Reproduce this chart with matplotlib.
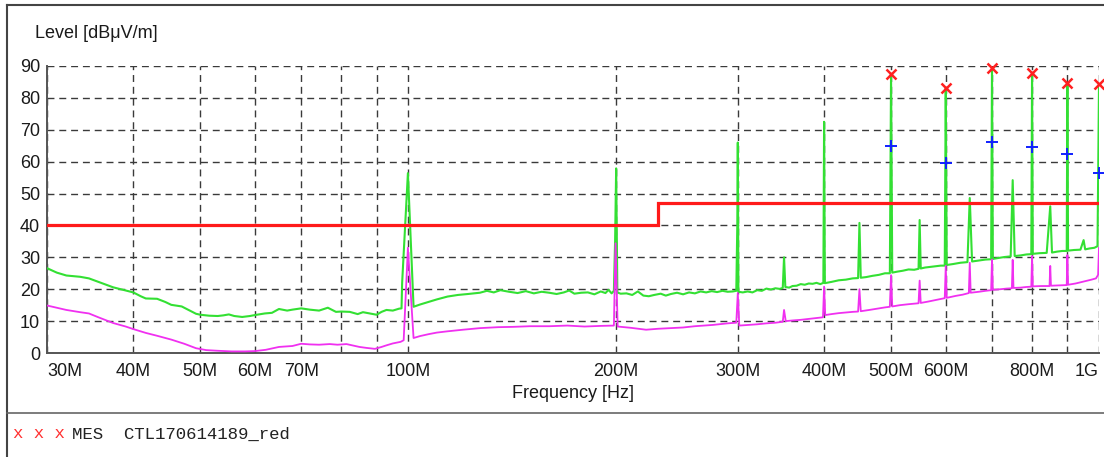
import matplotlib
matplotlib.use('Agg')

import numpy as np
import matplotlib.pyplot as plt
from matplotlib.lines import Line2D

# Peak trace (green), frequency in MHz / level in dBuV/m
peak_freq = [30, 31, 32, 33.5, 34.5, 35.7, 37.4, 39, 40, 41, 41.7, 43.3, 44.5, 45.4, 47, 48.2,
             49.3, 50, 51.5, 53, 54, 55, 56, 57.5, 59, 60, 62, 63.5, 65, 66.8, 68, 70, 72, 74.3,
             76.5, 78.6, 80, 82.3, 84.5, 86, 87.5, 89, 90, 91.5, 93, 95, 97, 97.8, 98.0, 99.9,
             101.8, 104, 107, 110, 114, 118, 122, 127, 130, 133, 136, 140, 144, 148, 152, 156,
             160, 164, 168, 171, 174, 178, 182, 186, 190, 193, 195, 197, 198.5, 199.3, 200,
             200.8, 203, 207, 211, 215, 219, 223, 227, 232, 236, 240, 245, 250, 255, 260, 265,
             270, 275, 280, 285, 290, 295, 298.5, 299.5, 300, 300.6, 305, 310, 315, 320, 325,
             330, 335, 340, 345, 348.5, 350, 351.5, 356, 360, 365, 370, 375, 380, 385, 390, 395,
             399, 400, 401, 410, 420, 430, 440, 448, 450, 452, 460, 470, 480, 490, 498, 500,
             502, 510, 520, 530, 540, 548, 550, 552, 560, 570, 580, 590, 598, 600, 602, 615,
             630, 645, 650, 655, 670, 685, 698, 700, 702, 715, 730, 745, 750, 755, 770, 785,
             798, 800, 802, 820, 840, 850, 855, 870, 885, 898, 900, 902, 920, 940, 950, 955,
             970, 985, 995, 1000]
peak_level = [26.6, 25.2, 24.3, 23.9, 23.4, 22.2, 20.6, 19.6, 19.0, 17.8, 17.1, 17.0, 16.0, 15.1,
              14.6, 13.4, 12.3, 12.0, 11.7, 11.6, 11.8, 12.1, 11.6, 11.3, 11.6, 11.9, 12.4, 12.6,
              13.8, 13.3, 13.6, 14.0, 13.6, 13.3, 14.2, 12.9, 13.0, 12.9, 12.2, 12.8, 12.5, 12.2,
              12.0, 12.9, 13.5, 13.3, 13.9, 14.0, 22.0, 56.4,
              14.5, 15.2, 16.0, 16.8, 17.7, 18.2, 18.5, 18.9, 19.5, 19.0, 19.7, 19.2, 18.8, 19.4,
              18.7, 19.2, 18.9, 18.5, 19.0, 19.6, 18.6, 18.9, 19.0, 18.4, 19.3, 18.8, 19.8, 18.7,
              19.5, 35.0, 57.9,
              19.0, 18.6, 18.7, 18.2, 19.3, 18.0, 17.8, 18.2, 18.6, 18.0, 18.5, 18.9, 18.4, 19.0,
              18.7, 19.3, 19.0, 19.4, 19.1, 19.5, 19.2, 19.3, 19.5, 40.0, 66.0, 19.2, 19.0, 19.3,
              19.0, 19.7, 19.5, 20.2, 19.9, 20.3, 20.1, 20.4, 30.0, 20.7, 20.5, 21.0, 21.1, 21.6,
              21.4, 21.8, 21.7, 22.0, 21.6, 22.0, 72.5, 21.9, 22.3, 22.8, 23.0, 23.4, 23.5, 40.8,
              23.6, 23.8, 24.2, 24.5, 25.0, 25.0, 87.5, 25.2, 25.5, 25.8, 26.2, 26.1, 26.4, 41.7,
              26.5, 26.8, 27.0, 27.2, 27.4, 27.4, 83.0, 27.6, 27.9, 28.3, 28.5, 48.6, 28.7, 29.0,
              29.3, 29.4, 89.3, 29.5, 29.8, 30.1, 30.3, 54.2, 30.4, 30.6, 30.9, 31.0, 87.9, 31.1,
              31.3, 31.4, 46.0, 31.5, 31.8, 32.0, 32.0, 84.7, 32.1, 32.3, 32.4, 35.4, 32.5, 32.8,
              33.0, 33.5, 84.2]

# Average trace (magenta)
avg_freq = [30, 31, 32, 33.5, 34.5, 35.7, 37.4, 39, 40, 41.7, 43.3, 45.4, 47.4, 49.3, 51, 53,
            55.5, 58, 60, 62.2, 65, 68, 70, 72, 74.3, 77, 79, 81.4, 85, 87, 89.5, 91.5, 93, 95,
            97.5, 98.5, 99.9, 101.8, 104, 107, 110, 114, 120, 127, 135, 142, 150, 160, 170, 180,
            190, 198.5, 199.6, 201, 210, 221, 230, 240, 250, 260, 276, 290, 298.5, 300, 301.5,
            310, 320, 330, 340, 348.5, 350, 352, 360, 370, 380, 390, 398.5, 400, 401.5, 410,
            420, 430, 440, 448, 450, 452, 465, 480, 490, 498, 500, 502, 515, 530, 548, 550, 552,
            565, 580, 598, 600, 602, 620, 635, 648, 650, 652, 670, 685, 698, 700, 702, 720, 735,
            748, 750, 752, 770, 785, 798, 800, 802, 825, 848, 850, 852, 875, 898, 900, 902, 925,
            950, 975, 990, 997, 1000]
avg_level = [14.9, 14.2, 13.5, 12.8, 12.4, 11.1, 9.4, 8.3, 7.5, 6.3, 5.4, 4.2, 2.9, 1.5, 0.9,
             0.7, 0.5, 0.5, 0.6, 1.0, 1.9, 2.2, 2.9, 2.7, 2.6, 2.8, 2.6, 2.8, 1.9, 1.6, 1.3, 1.9,
             2.4, 3.0, 3.5, 4.0, 33.0, 4.7, 5.3, 5.9, 6.4, 6.8, 7.3, 7.8, 8.1, 8.2, 8.4, 8.4, 8.6,
             8.3, 8.5, 8.6, 34.4, 8.3, 7.9, 7.3, 7.6, 7.8, 8.0, 8.4, 8.8, 9.3, 9.5, 18.8, 8.6,
             8.8, 9.0, 9.3, 9.5, 9.8, 13.5, 10.0, 10.2, 10.4, 10.7, 11.0, 11.2, 20.8, 11.9, 12.2,
             12.5, 12.7, 12.9, 13.0, 20.0, 13.1, 13.5, 14.0, 14.3, 14.5, 24.4, 14.6, 15.0, 15.3,
             15.6, 22.7, 15.7, 16.1, 16.6, 17.2, 27.3, 17.3, 17.9, 18.3, 18.8, 28.3, 18.9, 19.2,
             19.5, 19.7, 29.3, 19.8, 20.0, 20.2, 20.3, 29.2, 20.4, 20.5, 20.7, 20.8, 30.4, 20.9,
             21.0, 21.0, 27.3, 21.1, 21.2, 21.3, 30.7, 21.4, 21.8, 22.4, 23.0, 23.4, 24.5, 33.0]

# Limit line (red)
limit_freq = [30, 230, 230, 1000]
limit_level = [40, 40, 47, 47]

# Final measurement points
mes_freq = [500, 600, 700, 800, 900, 1000]
mes_peak = [87.5, 83.0, 89.3, 87.9, 84.7, 84.2]
mes_avg = [64.9, 59.7, 66.1, 64.5, 62.3, 56.6]

grid_freq = [30, 40, 50, 60, 70, 80, 90, 100, 200, 300, 400, 500, 600, 700, 800, 900, 1000]
grid_labels = ['30M', '40M', '50M', '60M', '70M', '', '', '100M', '200M', '300M', '400M',
               '500M', '600M', '', '800M', '', '1G']
y_ticks = [0, 10, 20, 30, 40, 50, 60, 70, 80, 90]

plt.rcParams['font.family'] = ['Liberation Sans', 'DejaVu Sans']

W, H = 1104, 457
fig = plt.figure(figsize=(W / 100, H / 100), dpi=100)
ax = fig.add_axes([47 / W, 1 - 353 / H, 1052 / W, 287 / H])

ax.plot(peak_freq, peak_level, color='#33e033', lw=1.5, zorder=3)
ax.plot(avg_freq, avg_level, color='#f030f0', lw=1.3, zorder=4)
ax.plot(limit_freq, limit_level, color='#ff1a1a', lw=2.3, zorder=5, solid_joinstyle='miter')
ax.plot(mes_freq, mes_peak, 'x', color='#ff2020', ms=7, mew=1.8, zorder=6, clip_on=False)
ax.plot(mes_freq, mes_avg, '+', color='#1020ff', ms=8, mew=1.4, zorder=6, clip_on=False)

ax.set_xscale('log')
ax.set_xlim(30, 1000)
ax.set_ylim(0, 90)
ax.set_xticks(grid_freq)
ax.set_xticklabels(grid_labels)
ax.xaxis.set_minor_locator(matplotlib.ticker.NullLocator())
ax.set_yticks(y_ticks)

ax.grid(True, color='#3a3a3a', lw=1.0, linestyle=(0, (5, 3.5)), zorder=1)
ax.set_axisbelow(True)

for s in ['top', 'right']:
    ax.spines[s].set_visible(False)
for s in ['left', 'bottom']:
    ax.spines[s].set_color('#555555')
    ax.spines[s].set_linewidth(1.4)

ax.tick_params(axis='both', length=0, labelsize=13, colors='#1a1a1a')
ax.tick_params(axis='x', pad=7)
ax.tick_params(axis='y', pad=5)
xl = ax.get_xticklabels()
xl[0].set_horizontalalignment('left')
xl[-1].set_horizontalalignment('right')

fig.text(35 / W, 1 - 33 / H, 'Level [dBμV/m]', fontsize=13, color='#1a1a1a',
         ha='left', va='center')
fig.text(573 / W, 1 - 393 / H, 'Frequency [Hz]', fontsize=13, color='#1a1a1a',
         ha='center', va='center')

# outer frame and legend separator
fig.add_artist(Line2D([7 / W, 7 / W], [0, 1 - 5 / H], color='#444444', lw=1.5))
fig.add_artist(Line2D([7 / W, 1], [1 - 5 / H, 1 - 5 / H], color='#444444', lw=1.5))
fig.add_artist(Line2D([7 / W, 1], [1 - 413 / H, 1 - 413 / H], color='#666666', lw=1.2))

fig.text(13 / W, 1 - 434 / H, 'x x x', family='Liberation Mono', fontsize=12.5,
         color='#ff3030', ha='left', va='center')
fig.text(72 / W, 1 - 434 / H, 'MES  CTL170614189_red', family='Liberation Mono',
         fontsize=12.5, color='#222222', ha='left', va='center')

fig.savefig('out.png', dpi=100)
